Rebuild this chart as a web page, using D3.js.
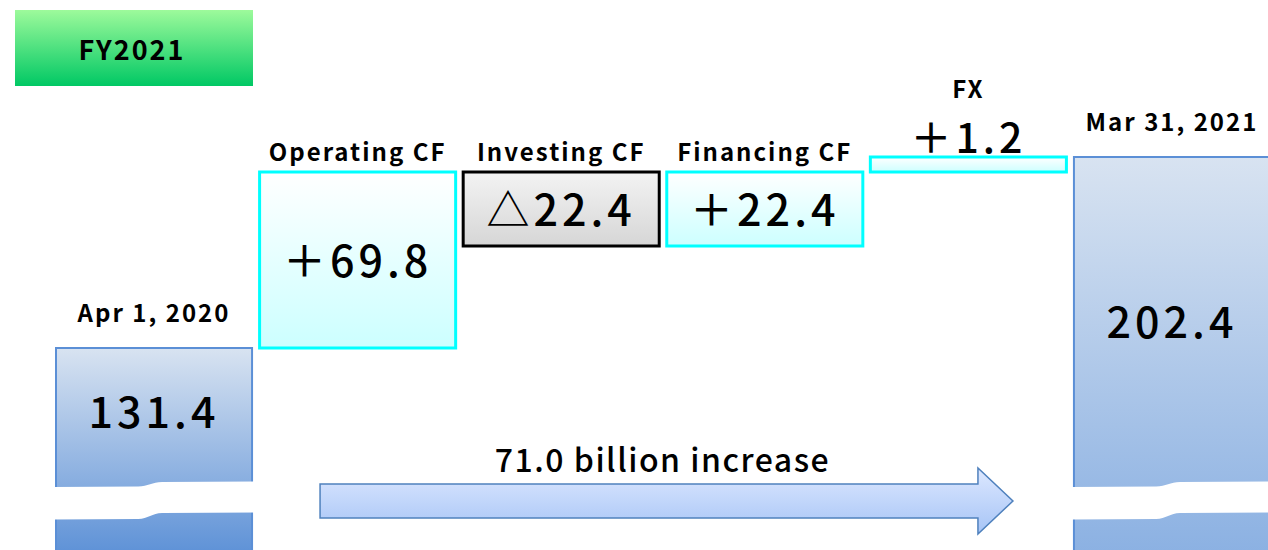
<!DOCTYPE html>
<html>
<head>
<meta charset="utf-8">
<script src="https://d3js.org/d3.v7.min.js"></script>
<style>
  body { margin: 0; background: #fff; }
  text { font-family: "Noto Sans CJK JP", "Noto Sans", sans-serif; fill: #000; }
</style>
</head>
<body>
<svg id="chart" width="1268" height="550"></svg>
<script>
// data
const categories = ["Apr 1, 2020", "Operating CF", "Investing CF", "Financing CF", "FX", "Mar 31, 2021"];
const values = [131.4, 69.8, -22.4, 22.4, 1.2, 202.4];
const valueLabels = ["131.4", "＋69.8", "△22.4", "＋22.4", "＋1.2", "202.4"];
const kinds = ["total", "delta", "delta", "delta", "delta", "total"];
const periodLabel = "FY2021";
const changeLabel = "71.0 billion increase";

// running totals -> bar extents
let run = 0;
const steps = categories.map((c, i) => {
  let lo, hi;
  if (kinds[i] === "total") { lo = 0; hi = values[i]; run = values[i]; }
  else {
    const prev = run; run = prev + values[i];
    lo = Math.min(prev, run); hi = Math.max(prev, run);
  }
  return {name: c, label: valueLabels[i], kind: kinds[i], value: values[i], lo, hi, i};
});

const W = 1268, H = 550;
const svg = d3.select("#chart");

const x = d3.scaleBand().domain(categories).range([56, 1270]).paddingInner(0.037).paddingOuter(0);

// the original is drawn "not to scale": piecewise scale through the step levels
const levels = Array.from(new Set(steps.flatMap(d => [d.lo, d.hi]).filter(v => v > 0))).sort(d3.ascending);
const y = d3.scaleLinear().domain(levels).range([348, 246, 172, 157]);

// gradients
const defs = svg.append("defs");
function grad(id, top, bottom) {
  const g = defs.append("linearGradient").attr("id", id)
    .attr("x1", 0).attr("y1", 0).attr("x2", 0).attr("y2", 1);
  g.append("stop").attr("offset", 0).attr("stop-color", top);
  g.append("stop").attr("offset", 1).attr("stop-color", bottom);
}
grad("g-title", "#9dfa9b", "#00c864");
grad("g-start", "#d8e3f1", "#5a8fd6");
grad("g-end", "#d8e3f1", "#8ab0e2");
grad("g-up", "#ffffff", "#ccffff");
grad("g-down", "#f3f3f3", "#d6d6d6");
grad("g-arrow", "#dde8ff", "#a6c4f6");

// title box
const tb = svg.append("g");
tb.append("rect").attr("x", 15).attr("y", 10).attr("width", 238).attr("height", 76).attr("fill", "url(#g-title)");
tb.append("text").attr("x", 132).attr("y", 60).attr("text-anchor", "middle")
  .style("font-size", "27px").style("font-weight", "bold").style("letter-spacing", "2px")
  .text(periodLabel);

function fillFor(d) {
  if (d.kind === "total") return d.i === 0 ? "url(#g-start)" : "url(#g-end)";
  return d.value < 0 ? "url(#g-down)" : "url(#g-up)";
}
function strokeFor(d) {
  if (d.kind === "total") return "#5b8fd6";
  return d.value < 0 ? "#000" : "#00ffff";
}

const bars = svg.append("g").selectAll("g").data(steps).join("g");

bars.append("rect")
  .attr("x", d => x(d.name))
  .attr("y", d => y(d.hi))
  .attr("width", x.bandwidth())
  .attr("height", d => d.kind === "total" ? H + 10 - y(d.hi) : y(d.lo) - y(d.hi))
  .attr("fill", fillFor)
  .attr("stroke", strokeFor)
  .attr("stroke-width", d => d.kind === "total" ? 2 : 3);

// axis break on totals
const totals = steps.filter(d => d.kind === "total");
svg.append("g").selectAll("path").data(totals).join("path")
  .attr("fill", "#fff")
  .attr("d", d => {
    const x0 = x(d.name) - 3, x1 = x(d.name) + x.bandwidth() + 3;
    const xm = x(d.name) + x.bandwidth() * 0.48;
    return `M${x0},487 L${xm - 12},486.5 C${xm - 2},486.5 ${xm + 2},482 ${xm + 12},482 L${x1},481.5 ` +
           `L${x1},512.5 L${xm + 12},513 C${xm + 2},513 ${xm - 2},519 ${xm - 12},519 L${x0},519.5 Z`;
  });

// category labels above bars
bars.append("text")
  .attr("x", d => x(d.name) + x.bandwidth() / 2)
  .attr("y", d => d.name === "FX" ? 98 : y(d.hi) - (d.kind === "total" ? 26 : 11))
  .attr("text-anchor", "middle")
  .style("font-size", "24px")
  .style("font-weight", "bold")
  .style("letter-spacing", "2px")
  .text(d => d.name);

// value labels
bars.append("text")
  .attr("x", d => x(d.name) + x.bandwidth() / 2)
  .attr("y", d => {
    if (d.name === "FX") return 153;
    if (d.kind === "total") return y(d.hi) + (d.i === 0 ? 80 : 181);
    return (y(d.hi) + y(d.lo)) / 2 + 17;
  })
  .attr("text-anchor", "middle")
  .style("font-size", d => d.name === "FX" ? "41px" : "43px")
  .style("font-weight", 500)
  .style("letter-spacing", "4px")
  .text(d => d.label);

// change arrow
const ax0 = x(categories[0]) + x.bandwidth() + 68;
const ax1 = x(categories[categories.length - 1]) - 61;
const ah = 35;
svg.append("path")
  .attr("d", `M${ax0},484 L${ax1 - ah},484 L${ax1 - ah},468 L${ax1},501 L${ax1 - ah},534 L${ax1 - ah},518 L${ax0},518 Z`)
  .attr("fill", "url(#g-arrow)")
  .attr("stroke", "#4f81bd")
  .attr("stroke-width", 1.5);

svg.append("text")
  .attr("x", (ax0 + ax1) / 2 - 4)
  .attr("y", 472)
  .attr("text-anchor", "middle")
  .style("font-size", "32px")
  .style("font-weight", 500)
  .style("letter-spacing", "1.5px")
  .text(changeLabel);
</script>
</body>
</html>
